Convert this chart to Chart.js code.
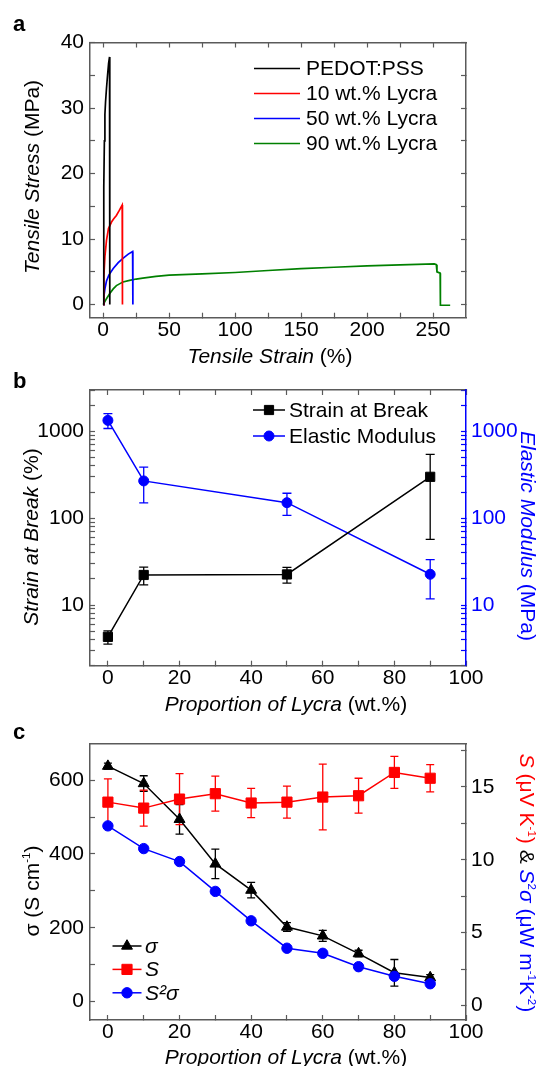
<!DOCTYPE html>
<html><head><meta charset="utf-8">
<script src="https://cdn.jsdelivr.net/npm/chart.js@4.4.0/dist/chart.umd.min.js"></script>
<style>
body{margin:0;background:#fff;width:541px;height:1066px;position:relative;overflow:hidden;font-family:"Liberation Sans",Arial,sans-serif;}
canvas{position:absolute;left:0;}
.t{position:absolute;white-space:nowrap;font-size:21px;line-height:21px;color:#000;transform:translate(-50%,-50%);}
.t.rl{transform:translate(-50%,-50%) rotate(-90deg);}
.t.rr{transform:translate(-50%,-50%) rotate(90deg);}
.lbl{position:absolute;font-weight:bold;font-size:22px;line-height:22px;}
sup{font-size:0.55em;line-height:0;vertical-align:0.75em;}
</style></head><body>
<canvas id="ca" width="541" height="345" style="top:0px"></canvas>
<canvas id="cb" width="541" height="345" style="top:345px"></canvas>
<canvas id="cc" width="541" height="376" style="top:690px"></canvas>

<div class="lbl" style="left:13px;top:13px">a</div>
<div class="lbl" style="left:13px;top:370px">b</div>
<div class="lbl" style="left:13px;top:721px">c</div>

<div class="t rl" style="left:31px;top:177px"><i>Tensile Stress</i> (MPa)</div>
<div class="t" style="left:270px;top:355px"><i>Tensile Strain</i> (%)</div>

<div class="t rl" style="left:30px;top:537px"><i>Strain at Break</i> (%)</div>
<div class="t rr" style="left:528px;top:536px;color:#0000ff"><i>Elastic Modulus</i> (MPa)</div>
<div class="t" style="left:286px;top:703px"><i>Proportion of Lycra</i> (wt.%)</div>

<div class="t rl" style="left:31px;top:891px">σ (S cm<sup>-1</sup>)</div>
<div class="t rr" style="left:527px;top:883px"><span style="color:#ff0000"><i>S</i> (μV K<sup>-1</sup>)</span> &amp; <span style="color:#0000ff"><i>S</i><sup>2</sup><i>σ</i> (μW m<sup>-1</sup>K<sup>-2</sup>)</span></div>
<div class="t" style="left:286px;top:1056px"><i>Proportion of Lycra</i> (wt.%)</div>

<script>
// ---------- Panel a: stress-strain curves ----------
const strainPedot = [0, 0.3, 0.6, 0.9, 1.3, 1.8, 2.5, 3.3, 4.1, 4.8, 5.0];
const stressPedot = [0, 8, 18, 25, 29, 31, 33, 35, 36.8, 37.8, 0];
const strainLycra10 = [0, 0.5, 1.3, 2.5, 4, 6.3, 8, 10, 12, 14.4, 14.6];
const stressLycra10 = [0, 4.2, 7.3, 9.8, 11.6, 12.6, 13.1, 13.6, 14.3, 15.2, 0];
const strainLycra50 = [0, 0.5, 1.3, 2.5, 4.3, 7.6, 11.4, 15.2, 19, 22.3, 22.5];
const stressLycra50 = [0, 1.2, 2.4, 3.6, 4.5, 5.5, 6.4, 7.1, 7.7, 8.1, 0];
const strainLycra90 = [0, 2.5, 5, 7.6, 10, 12.7, 15, 20, 25, 30, 40, 50, 75, 100, 125, 150, 175, 200, 225, 251, 252.5, 253, 255.4, 255.6, 263];
const stressLycra90 = [0, 0.9, 1.7, 2.4, 2.9, 3.2, 3.45, 3.7, 3.9, 4.05, 4.3, 4.5, 4.7, 4.9, 5.2, 5.5, 5.7, 5.9, 6.05, 6.2, 6.1, 5.0, 4.8, -0.1, -0.1];
const seriesNamesA = ['PEDOT:PSS', '10 wt.% Lycra', '50 wt.% Lycra', '90 wt.% Lycra'];
const xTicksA = [0, 25, 50, 75, 100, 125, 150, 175, 200, 225, 250];
const yTicksA = [0, 5, 10, 15, 20, 25, 30, 35, 40];

// ---------- Panel b: strain at break & elastic modulus ----------
const lycraB = [0, 10, 50, 90];
const strainAtBreak = [4.3, 22.2, 22.5, 300];
const strainAtBreakErr = [0.75, 5.1, 4.6, 243];
const elasticModulus = [1340, 269, 151, 22.6];
const elasticModulusErr = [260, 119, 43, 10.8];
const xTicksBC = [0, 10, 20, 30, 40, 50, 60, 70, 80, 90, 100];
const logTicks = [2,3,4,5,6,7,8,9,10,20,30,40,50,60,70,80,90,100,200,300,400,500,600,700,800,900,1000,2000,3000];
const logLabels = [10, 100, 1000];

// ---------- Panel c: thermoelectric properties ----------
const lycraC = [0, 10, 20, 30, 40, 50, 60, 70, 80, 90];
const sigma = [638, 591, 494, 373, 302, 202, 178, 130, 78, 65];
const sigmaErr = [8, 21, 40, 40, 21, 12, 15, 9, 36, 8];
const seebeck = [13.96, 13.55, 14.17, 14.54, 13.9, 13.96, 14.31, 14.4, 16.0, 15.6];
const seebeckErr = [1.6, 1.24, 1.75, 1.2, 1.0, 1.1, 2.26, 1.2, 1.1, 0.93];
const powerFactor = [12.33, 10.77, 9.88, 7.83, 5.81, 3.93, 3.58, 2.66, 2.0, 1.49];
const yTicksCLeft = [0, 100, 200, 300, 400, 500, 600];
const yTicksCRight = [0, 2.5, 5, 7.5, 10, 12.5, 15, 17.5];

// ---------- helpers ----------
const FAM = '"Liberation Sans", Arial, sans-serif';
const tickFont = {family: FAM, size: 21};
const AX = '#5a5a5a';
const zip = (xs, ys) => xs.map((x, i) => ({x, y: ys[i]}));
const fixW = w => s => { s.width = w; };
const fixH = h => s => { s.height = h; };
const setTicks = vals => s => { s.ticks = vals.map(v => ({value: v})); };

const errorBars = {
  id: 'errorBars',
  beforeDatasetsDraw(chart) {
    const ctx = chart.ctx;
    chart.data.datasets.forEach((ds, i) => {
      if (!ds.errors) return;
      const meta = chart.getDatasetMeta(i);
      const xs = chart.scales[meta.xAxisID], ys = chart.scales[meta.yAxisID];
      ctx.save();
      ctx.strokeStyle = ds.borderColor;
      ctx.lineWidth = 1.3;
      const c = ds.capHalf || 4;
      ds.data.forEach((p, j) => {
        const e = ds.errors[j];
        if (!e) return;
        const x = xs.getPixelForValue(p.x);
        const y1 = ys.getPixelForValue(p.y + e), y2 = ys.getPixelForValue(p.y - e);
        ctx.beginPath();
        ctx.moveTo(x, y1); ctx.lineTo(x, y2);
        ctx.moveTo(x - c, y1); ctx.lineTo(x + c, y1);
        ctx.moveTo(x - c, y2); ctx.lineTo(x + c, y2);
        ctx.stroke();
      });
      ctx.restore();
    });
  }
};

const customLegend = {
  id: 'customLegend',
  afterDraw(chart, args, o) {
    if (!o || !o.show) return;
    const ctx = chart.ctx;
    chart.data.datasets.forEach((ds, i) => {
      const y = o.y + i * o.dy;
      ctx.save();
      ctx.strokeStyle = ds.borderColor;
      ctx.lineWidth = ds.borderWidth;
      ctx.beginPath(); ctx.moveTo(o.x0, y); ctx.lineTo(o.x1, y); ctx.stroke();
      if (o.marker) {
        ctx.fillStyle = ds.backgroundColor;
        ctx.strokeStyle = ds.borderColor;
        ctx.lineWidth = 1;
        Chart.helpers.drawPoint(ctx, {pointStyle: ds.pointStyle, radius: ds.pointRadius, borderWidth: 1, rotation: 0}, (o.x0 + o.x1) / 2, y);
      }
      ctx.fillStyle = '#000';
      ctx.font = (o.italic ? 'italic ' : '') + o.size + 'px ' + FAM;
      ctx.textBaseline = 'middle';
      ctx.textAlign = 'left';
      ctx.fillText(ds.label, o.tx, y + 1);
      ctx.restore();
    });
  }
};
Chart.register(errorBars, customLegend);

function axis(opts) {
  const o = {
    type: opts.type || 'linear',
    position: opts.position,
    min: opts.min, max: opts.max,
    afterBuildTicks: setTicks(opts.ticks),
    grid: {drawOnChartArea: false, drawTicks: opts.drawTicks !== false, tickLength: -5, tickColor: opts.color || AX, tickWidth: 1.2},
    border: {display: true, color: opts.color || AX, width: 1.5},
    ticks: {
      autoSkip: false, maxRotation: 0, minRotation: 0, padding: opts.padding || 5,
      color: opts.labelColor || '#000', font: tickFont,
      callback: opts.label || (() => '')
    }
  };
  if (opts.w !== undefined) o.afterFit = fixW(opts.w);
  if (opts.h !== undefined) o.afterFit = fixH(opts.h);
  if (opts.id2) { o.axis = opts.id2; }
  return o;
}

const base = {responsive: false, animation: false, devicePixelRatio: 1, events: []};

// ---------- Panel a ----------
new Chart(document.getElementById('ca'), {
  type: 'line',
  data: {datasets: [
    {label: seriesNamesA[0], data: zip(strainPedot, stressPedot), borderColor: '#000000'},
    {label: seriesNamesA[1], data: zip(strainLycra10, stressLycra10), borderColor: '#ff0000'},
    {label: seriesNamesA[2], data: zip(strainLycra50, stressLycra50), borderColor: '#0000ff'},
    {label: seriesNamesA[3], data: zip(strainLycra90, stressLycra90), borderColor: '#008000'}
  ].map(d => Object.assign(d, {borderWidth: 1.7, pointRadius: 0, tension: 0, fill: false}))},
  options: Object.assign({}, base, {
    layout: {padding: {top: 42.5, left: 0, right: 0, bottom: 0}},
    plugins: {legend: {display: false}, tooltip: {enabled: false},
      customLegend: {show: true, x0: 254, x1: 300, tx: 306, y: 68.5, dy: 25, size: 21, marker: false}},
    scales: {
      x: axis({position: 'bottom', min: -10, max: 275, ticks: xTicksA, h: 27.3, label: v => v % 50 === 0 ? String(v) : ''}),
      xt: axis({position: 'top', min: -10, max: 275, ticks: xTicksA, h: 0}),
      y: axis({position: 'left', min: -2, max: 40, ticks: yTicksA, w: 90, padding: 11, label: v => v % 10 === 0 ? String(v) : ''}),
      yr: axis({position: 'right', min: -2, max: 40, ticks: yTicksA, w: 75})
    }
  })
});

// ---------- Panel b ----------
new Chart(document.getElementById('cb'), {
  type: 'line',
  data: {datasets: [
    {label: 'Strain at Break', data: zip(lycraB, strainAtBreak), errors: strainAtBreakErr, yAxisID: 'y',
     borderColor: '#000000', backgroundColor: '#000000', pointStyle: 'rect', pointRadius: 6.5, capHalf: 4.5},
    {label: 'Elastic Modulus', data: zip(lycraB, elasticModulus), errors: elasticModulusErr, yAxisID: 'y2',
     borderColor: '#0000ff', backgroundColor: '#0000ff', pointStyle: 'circle', pointRadius: 5, capHalf: 4.5}
  ].map(d => Object.assign(d, {borderWidth: 1.5, tension: 0, fill: false, pointBorderWidth: 1}))},
  options: Object.assign({}, base, {
    layout: {padding: {top: 45, left: 0, right: 0, bottom: 0}},
    plugins: {legend: {display: false}, tooltip: {enabled: false},
      customLegend: {show: true, x0: 253, x1: 285, tx: 289, y: 65, dy: 26, size: 21, marker: true}},
    scales: {
      x: axis({position: 'bottom', min: -5, max: 100, ticks: xTicksBC, h: 24.3, label: v => v % 20 === 0 ? String(v) : ''}),
      xt: axis({position: 'top', min: -5, max: 100, ticks: xTicksBC, h: 0}),
      y: axis({type: 'logarithmic', position: 'left', min: 2, max: 3000, ticks: logTicks, w: 90, padding: 11,
               label: v => logLabels.includes(v) ? String(v) : ''}),
      y2: axis({type: 'logarithmic', position: 'right', min: 2, max: 3000, ticks: logTicks, w: 75, padding: 10,
               color: '#0000ff', labelColor: '#0000ff', label: v => logLabels.includes(v) ? String(v) : ''})
    }
  })
});

// ---------- Panel c ----------
new Chart(document.getElementById('cc'), {
  type: 'line',
  data: {datasets: [
    {label: 'σ', data: zip(lycraC, sigma), errors: sigmaErr, yAxisID: 'y', order: 3,
     borderColor: '#000000', backgroundColor: '#000000', pointStyle: 'triangle', pointRadius: 6.3, capHalf: 4},
    {label: 'S', data: zip(lycraC, seebeck), errors: seebeckErr, yAxisID: 'y2', order: 2,
     borderColor: '#ff0000', backgroundColor: '#ff0000', pointStyle: 'rect', pointRadius: 7.2, capHalf: 4},
    {label: 'S²σ', data: zip(lycraC, powerFactor), yAxisID: 'y2', order: 1,
     borderColor: '#0000ff', backgroundColor: '#0000ff', pointStyle: 'circle', pointRadius: 5.2}
  ].map(d => Object.assign(d, {borderWidth: 1.5, tension: 0, fill: false, pointBorderWidth: 1}))},
  options: Object.assign({}, base, {
    layout: {padding: {top: 53.3, left: 0, right: 0, bottom: 0}},
    plugins: {legend: {display: false}, tooltip: {enabled: false},
      customLegend: {show: true, x0: 112.5, x1: 141.5, tx: 145, y: 256, dy: 23.4, size: 21, marker: true, italic: true}},
    scales: {
      x: axis({position: 'bottom', min: -5, max: 100, ticks: xTicksBC, h: 46, label: v => v % 20 === 0 ? String(v) : ''}),
      xt: axis({position: 'top', min: -5, max: 100, ticks: xTicksBC, h: 0, drawTicks: false}),
      y: axis({position: 'left', min: -50, max: 700, ticks: yTicksCLeft, w: 90, padding: 11, label: v => v % 200 === 0 ? String(v) : ''}),
      y2: axis({position: 'right', min: -1, max: 18, ticks: yTicksCRight, w: 75, padding: 10, label: v => v % 5 === 0 ? String(v) : ''})
    }
  })
});
</script>
</body></html>
